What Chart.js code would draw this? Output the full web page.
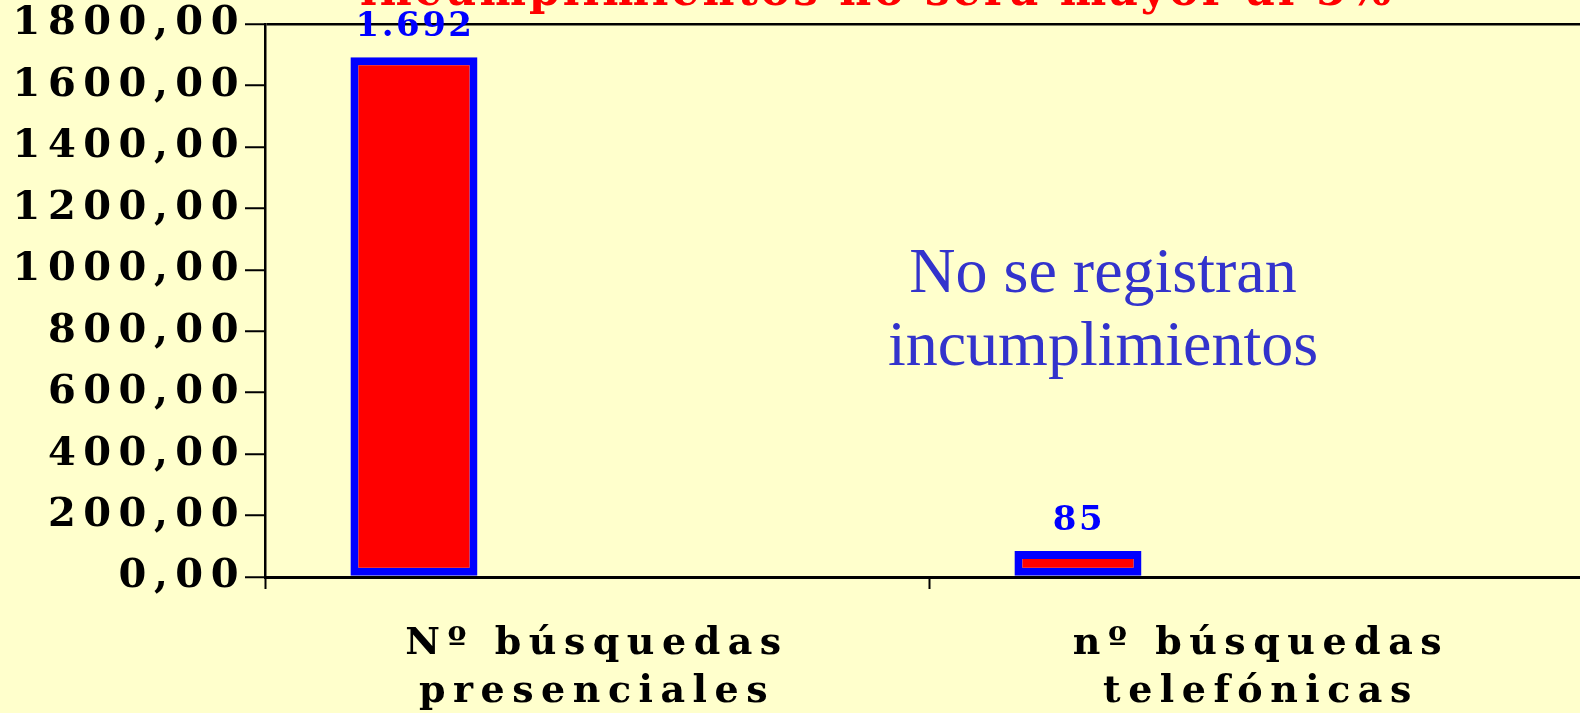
<!DOCTYPE html>
<html>
<head>
<meta charset="utf-8">
<script src="https://cdn.jsdelivr.net/npm/chart.js@4.4.1/dist/chart.umd.min.js"></script>
<style>
  html, body { margin: 0; padding: 0; background: #FFFFCC; overflow: hidden; }
  canvas { display: block; background: #FFFFCC; }
</style>
</head>
<body>
<canvas id="c" width="1600" height="713" style="width:1600px;height:713px"></canvas>
<script>
// ---- data ----
const categories = [['Nº búsquedas', 'presenciales'], ['nº búsquedas', 'telefónicas']];
const seriesNames = ['Serie 1', 'Serie 2', 'Serie 3'];
const serie1 = [1692, 85];
const serie2 = [null, null];
const serie3 = [null, null];
const yMin = 0, yMax = 1800, yStep = 200;
const titleText = 'incumplimientos no será mayor al 5%';
const noteLines = ['No se registran', 'incumplimientos'];

function f(s) { return 'bold ' + s + 'px "DejaVu Serif", serif'; }
function fmtTick(v) { return v.toFixed(2).replace('.', ','); }
function fmtLabel(v) { return String(v).replace(/\B(?=(\d{3})+(?!\d))/g, '.'); }

const LS = '7.5px';
const spacingPlugin = {
  id: 'spacing',
  beforeUpdate(chart) { chart.ctx.letterSpacing = LS; },
  beforeLayout(chart) { chart.ctx.letterSpacing = LS; },
  beforeDraw(chart) { chart.ctx.letterSpacing = LS; }
};

const textPlugin = {
  id: 'texts',
  afterDatasetsDraw(chart) {
    const ctx = chart.ctx;
    const meta = chart.getDatasetMeta(0);
    ctx.save();
    ctx.letterSpacing = '2.5px';
    ctx.font = f(34);
    ctx.fillStyle = '#0000FF';
    ctx.textAlign = 'center';
    ctx.textBaseline = 'alphabetic';
    meta.data.forEach((bar, i) => {
      const v = serie1[i];
      if (v == null) return;
      ctx.fillText(fmtLabel(v), bar.x + 1, bar.y - 21);
    });
    ctx.restore();
  },
  afterDraw(chart) {
    const ctx = chart.ctx;
    ctx.save();
    ctx.letterSpacing = '3px';
    ctx.font = f(44);
    ctx.fillStyle = '#FF0000';
    ctx.textAlign = 'left';
    ctx.textBaseline = 'alphabetic';
    ctx.fillText(titleText, 360, 5);
    ctx.letterSpacing = '0px';
    ctx.font = '64px "Liberation Serif", "Times New Roman", serif';
    ctx.fillStyle = '#3333CC';
    ctx.textAlign = 'center';
    ctx.fillText(noteLines[0], 1103, 292);
    ctx.fillText(noteLines[1], 1103, 365);
    ctx.restore();
  }
};

const ds = (label, data) => ({
  label, data,
  backgroundColor: '#FF0000',
  borderColor: '#0000FF',
  borderWidth: 8,
  borderSkipped: false,
  barPercentage: 0.694,
  categoryPercentage: 0.827
});

new Chart(document.getElementById('c'), {
  type: 'bar',
  data: {
    labels: categories,
    datasets: [ds(seriesNames[0], serie1), ds(seriesNames[1], serie2), ds(seriesNames[2], serie3)]
  },
  options: {
    responsive: false,
    animation: false,
    devicePixelRatio: 1,
    layout: { padding: { top: 24, right: 7, left: 0, bottom: 0 } },
    plugins: { legend: { display: false }, tooltip: { enabled: false }, title: { display: false } },
    scales: {
      x: {
        offset: true,
        grid: {
          offset: true,
          drawOnChartArea: false,
          drawTicks: true,
          tickLength: 12,
          tickColor: '#000',
          tickWidth: 2,
          color: '#000'
        },
        border: { display: true, color: '#000', width: 3 },
        ticks: {
          color: '#000',
          font: { family: '"DejaVu Serif", serif', size: 38, weight: 'bold', lineHeight: 1.263 },
          padding: 31,
          maxRotation: 0,
          autoSkip: false
        },
        afterFit(scale) { scale.height = 136; scale.paddingLeft = 0; scale.paddingRight = 0; }
      },
      y: {
        min: yMin, max: yMax,
        grid: {
          drawOnChartArea: true,
          color: (c) => (c.tick && c.tick.value === yMax ? '#000' : 'rgba(0,0,0,0)'),
          lineWidth: 2.5,
          tickLength: 20,
          tickColor: '#000',
          tickWidth: 2
        },
        border: { display: true, color: '#000', width: 2.5 },
        ticks: {
          stepSize: yStep,
          color: '#000',
          font: { family: '"DejaVu Serif", serif', size: 40, weight: 'bold' },
          padding: -1,
          callback: (v) => fmtTick(v)
        },
        afterFit(scale) { scale.width = 265; scale.paddingTop = 0; scale.paddingBottom = 0; }
      }
    }
  },
  plugins: [spacingPlugin, textPlugin]
});
</script>
</body>
</html>
